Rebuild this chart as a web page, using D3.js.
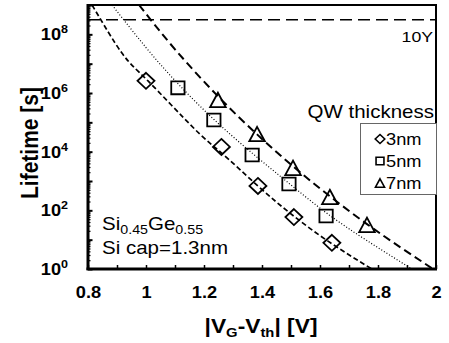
<!DOCTYPE html>
<html><head><meta charset="utf-8">
<script src="https://cdn.jsdelivr.net/npm/d3@7"></script>
<style>
html,body{margin:0;padding:0;background:#fff;}
svg{display:block;font-family:"Liberation Sans",Arial,sans-serif;}
</style></head>
<body><svg id="c" width="449" height="343"></svg>
<script>
// ---- data ----
const xTicks = [0.8, 0.9, 1.0, 1.1, 1.2, 1.3, 1.4, 1.5, 1.6, 1.7, 1.8, 1.9, 2.0];
const xTickLabels = ["0.8", "", "1", "", "1.2", "", "1.4", "", "1.6", "", "1.8", "", "2"];
const yExponents = [0, 1, 2, 3, 4, 5, 6, 7, 8, 9];
const yLabelExponents = [0, 2, 4, 6, 8];
const tenYears = 3.15e8;

const series = ["3nm", "5nm", "7nm"];
const v3 = [1.0, 1.26, 1.386, 1.51, 1.641];
const t3 = [2.6e6, 1.45e4, 680, 59, 7.8];
const v5 = [1.11, 1.234, 1.366, 1.493, 1.621];
const t5 = [1.5e6, 1.2e5, 7.7e3, 790, 64];
const v7 = [1.248, 1.383, 1.507, 1.634, 1.762];
const t7 = [5.8e5, 4.0e4, 2.8e3, 285, 32];

// fitted curves as drawn (V, log10 lifetime)
const fit3V = [0.814, 0.917, 1.007, 1.169, 1.26, 1.386, 1.51, 1.641, 1.779];
const fit3L = [9.0, 7.36, 6.41, 4.76, 3.96, 2.83, 1.8, 0.86, 0.0];
const fit5V = [0.883, 1.0, 1.11, 1.234, 1.366, 1.493, 1.621, 1.76, 1.917];
const fit5L = [9.0, 7.55, 6.32, 5.1, 3.95, 2.92, 1.92, 0.98, 0.0];
const fit7V = [0.976, 1.1, 1.248, 1.383, 1.507, 1.634, 1.762, 1.88, 1.99];
const fit7L = [9.0, 7.49, 5.89, 4.59, 3.5, 2.48, 1.53, 0.72, 0.0];

// ---- drawing ----
const SX = 1.14; // horizontal text stretch seen in the picture
const svg = d3.select("#c");
const x = d3.scaleLinear().domain([0.8, 2.0]).range([88, 436]);
const y = d3.scaleLog().domain([1, 1e9]).range([269, 5]);

function text(px, py, str, size, weight, anchor){
  const g = svg.append("g").attr("transform", `translate(${px},${py}) scale(${SX},1)`);
  const t = g.append("text").attr("font-size", size).attr("font-weight", weight || "normal")
    .attr("font-family", "Liberation Sans, Arial, sans-serif")
    .attr("text-anchor", anchor || "start").attr("fill", "#000");
  if (str !== null) t.text(str);
  return t;
}

// fit curves
const line = d3.line().x(d => x(d[0])).y(d => y(Math.pow(10, d[1]))).curve(d3.curveNatural);
svg.append("clipPath").attr("id", "pc").append("rect")
  .attr("x", 88).attr("y", 5).attr("width", 348).attr("height", 264);
const plot = svg.append("g").attr("clip-path", "url(#pc)");
plot.append("path").datum(d3.zip(fit3V, fit3L)).attr("d", line)
  .attr("fill", "none").attr("stroke", "#000").attr("stroke-width", 1.7).attr("stroke-dasharray", "5,2.8");
plot.append("path").datum(d3.zip(fit5V, fit5L)).attr("d", line)
  .attr("fill", "none").attr("stroke", "#000").attr("stroke-width", 1.2).attr("stroke-dasharray", "1,2");
plot.append("path").datum(d3.zip(fit7V, fit7L)).attr("d", line)
  .attr("fill", "none").attr("stroke", "#000").attr("stroke-width", 2).attr("stroke-dasharray", "8,4.5");

// 10Y line
plot.append("line").attr("x1", x(0.8)).attr("x2", x(2.0)).attr("y1", y(tenYears)).attr("y2", y(tenYears))
  .attr("stroke", "#000").attr("stroke-width", 1.4).attr("stroke-dasharray", "12,6");

// markers
const diamond = s => `M0,${-s}L${s*1.06},0L0,${s}L${-s*1.06},0Z`;
const square = s => `M${-s*1.04},${-s}H${s*1.04}V${s}H${-s*1.04}Z`;
const tri = s => `M0,${-s}L${s*1.08},${s}L${-s*1.08},${s}Z`;
const mk = [
  {v: v3, t: t3, p: diamond(8)},
  {v: v5, t: t5, p: square(6.4)},
  {v: v7, t: t7, p: tri(7.2)}
];
mk.forEach(m => {
  svg.append("g").selectAll("path").data(d3.zip(m.v, m.t)).join("path")
    .attr("transform", d => `translate(${x(d[0])},${y(d[1])})`)
    .attr("d", m.p).attr("fill", "none").attr("stroke", "#000").attr("stroke-width", 1.8);
});

// frame top/right
svg.append("path").attr("d", `M${x(0.8)},${y(1e9)}H${x(2.0)}V${y(1)}`)
  .attr("fill", "none").attr("stroke", "#000").attr("stroke-width", 2);

// x axis
const xAxis = d3.axisBottom(x).tickValues(xTicks).tickSizeInner(-4).tickSizeOuter(0)
  .tickFormat((d, i) => xTickLabels[i]);
const gx = svg.append("g").attr("transform", `translate(0,${y(1)})`).call(xAxis);
gx.select(".domain").attr("stroke-width", 3).attr("d", `M${x(0.8)-1.5},0H${x(2.0)+1}`);
gx.selectAll(".tick line").attr("stroke-width", 1.5);
gx.selectAll(".tick text").attr("font-size", 16).attr("font-weight", "bold")
  .attr("font-family", "Liberation Sans, Arial, sans-serif").attr("fill", "#000")
  .attr("y", 29).attr("dy", 0).attr("transform", `scale(${SX},1)`);

// y axis (major + minor ticks)
const minor = [];
yExponents.forEach(e => { if (e < 9) for (let k = 2; k <= 9; k++) minor.push(k * Math.pow(10, e)); });
const majors = yExponents.map(e => Math.pow(10, e));
const yAxisMinor = d3.axisLeft(y).tickValues(minor).tickSizeInner(-2.5).tickSizeOuter(0).tickFormat("");
const yAxisMajor = d3.axisLeft(y).tickValues(majors).tickSizeInner(-4.5).tickSizeOuter(0).tickFormat("");
const gy1 = svg.append("g").attr("transform", `translate(${x(0.8)},0)`).call(yAxisMinor);
const gy2 = svg.append("g").attr("transform", `translate(${x(0.8)},0)`).call(yAxisMajor);
gy1.select(".domain").remove();
gy2.select(".domain").attr("stroke-width", 3).attr("d", `M0,${y(1e9)-1}V${y(1)+1}`);
gy1.selectAll(".tick line").attr("stroke-width", 1.2);
gy2.selectAll(".tick line").attr("stroke-width", 2);

// y tick labels 10^n
yLabelExponents.forEach(e => {
  const t = text(68, y(Math.pow(10, e)) + 6, null, 16, "bold", "end");
  t.append("tspan").text("10");
  t.append("tspan").attr("font-size", 11).attr("dy", -7).text(String(e));
});

// axis titles
const xt = text(261, 333, null, 20, "bold", "middle");
xt.append("tspan").text("|V");
xt.append("tspan").attr("font-size", 13).attr("dy", 4).text("G");
xt.append("tspan").attr("dy", -4).text("-V");
xt.append("tspan").attr("font-size", 13).attr("dy", 4).text("th");
xt.append("tspan").attr("dy", -4).text("| [V]");

svg.append("text").attr("transform", `translate(38,143) rotate(-90) scale(1,${SX})`)
  .attr("text-anchor", "middle").attr("font-size", 21).attr("font-weight", "bold")
  .attr("font-family", "Liberation Sans, Arial, sans-serif").text("Lifetime [s]");

// annotations
text(433, 42, "10Y", 15.5, "normal", "end");
text(434, 118, "QW thickness", 18, "normal", "end");
const a1 = text(102, 230, null, 18, "normal", "start");
a1.append("tspan").text("Si");
a1.append("tspan").attr("font-size", 12.5).attr("dy", 4).text("0.45");
a1.append("tspan").attr("dy", -4).text("Ge");
a1.append("tspan").attr("font-size", 12.5).attr("dy", 4).text("0.55");
text(102, 254, "Si cap=1.3nm", 18, "normal", "start");

// legend
svg.append("rect").attr("x", 360.5).attr("y", 123.5).attr("width", 76).attr("height", 71)
  .attr("fill", "#fff").attr("stroke", "#666").attr("stroke-width", 1);
const legY = [139, 161, 183];
const legP = [diamond(4.5), square(3.8), tri(4.2)];
series.forEach((s, i) => {
  svg.append("path").attr("transform", `translate(380,${legY[i]})`).attr("d", legP[i])
    .attr("fill", "none").attr("stroke", "#000").attr("stroke-width", 1.6);
  text(386, legY[i] + 6, s, 16, "normal", "start");
});
</script></body></html>
